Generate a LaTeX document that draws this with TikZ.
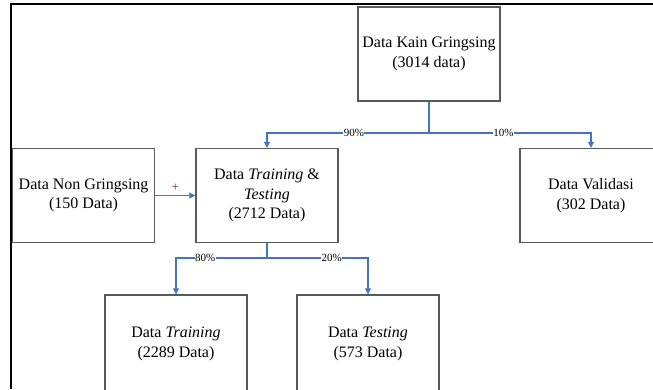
\documentclass[tikz,border=0pt]{standalone}
\usepackage{fontspec}
\setmainfont{Liberation Serif}
\usetikzlibrary{positioning}
\usetikzlibrary{arrows.meta}

\definecolor{linkblue}{HTML}{4472C4}
\definecolor{boxgray}{HTML}{595959}
\definecolor{plusbrown}{HTML}{6B2E1A}

\begin{document}
\begin{tikzpicture}[
    x=1pt, y=-1pt,
    block/.style={rectangle, draw=boxgray, line width=1.4pt, fill=white,
        minimum width=142pt, minimum height=94pt, align=center,
        font=\fontsize{16}{19.5}\selectfont},
    link/.style={draw=linkblue, line width=1.1pt},
    pct/.style={fill=white, inner sep=0.5pt, font=\fontsize{11}{12}\selectfont},
]
    \useasboundingbox (0,0) rectangle (653,389);

    % frame
    \draw[line width=2pt] (11,389) -- (11,4) -- (653,4);

    \node[block] (kain) at (429,54) {Data Kain Gringsing\\(3014 data)};

    \node[block] (tt) at (267,195.5) {Data \textit{Training} \&\\\textit{Testing}\\(2712 Data)};
    \node[block] (nong) [left=40pt of tt] {Data Non Gringsing\\(150 Data)};
    \node[block] (valid) at (591,195.5) {Data Validasi\\(302 Data)};

    \node[block, minimum height=98pt] (train) at (176,344) {Data \textit{Training}\\(2289 Data)};
    \node[block, minimum height=98pt] (test) at (368,344) {Data \textit{Testing}\\(573 Data)};

    \coordinate (split1) at (429,133);
    \coordinate (split2) at (267,258);

    \draw[link] (kain.south) -- (split1);
    \draw[link, -{Triangle[length=6pt,width=6pt]}] (split1) -| node[pct, pos=0.232] {90\%} (tt.north);
    \draw[link, -{Triangle[length=6pt,width=6pt]}] (split1) -| node[pct, pos=0.23] {10\%} (valid.north);

    \draw[link, -{Triangle[length=6pt,width=6pt]}] (nong.east) -- node[above=0pt, text=plusbrown, font=\fontsize{13}{13}\selectfont] {+} (tt.west);

    \draw[link] (tt.south) -- (split2);
    \draw[link, -{Triangle[length=6pt,width=6pt]}] (split2) -| node[pct, pos=0.34] {80\%} (train.north);
    \draw[link, -{Triangle[length=6pt,width=6pt]}] (split2) -| node[pct, pos=0.32] {20\%} (test.north);
\end{tikzpicture}
\end{document}
